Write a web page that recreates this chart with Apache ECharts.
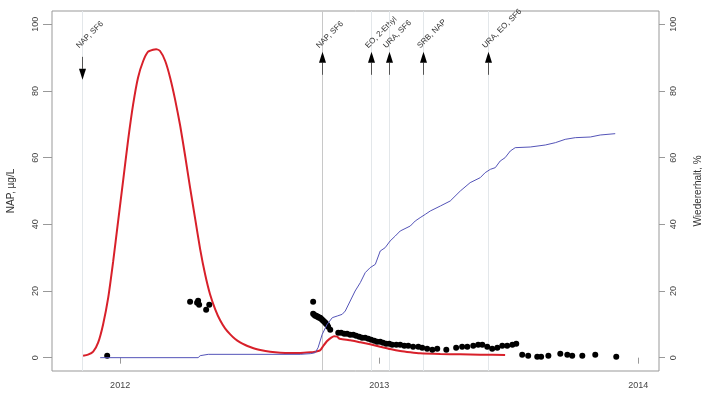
<!DOCTYPE html>
<html>
<head>
<meta charset="utf-8">
<script src="https://cdn.jsdelivr.net/npm/echarts@6/dist/echarts.min.js"></script>
<style>
  html, body { margin: 0; padding: 0; background: #fff; }
  #chart { width: 702px; height: 396px; }
</style>
</head>
<body>
<div id="chart"></div>
<script>
// Time is given in decimal years throughout.

// Model curve of NAP concentration (µg/L)
const modelTime = [2011.857, 2011.876, 2011.896, 2011.915, 2011.934, 2011.954, 2011.973, 2011.992,
  2012.012, 2012.031, 2012.050, 2012.069, 2012.089, 2012.108, 2012.127, 2012.139, 2012.154, 2012.174,
  2012.193, 2012.212, 2012.232, 2012.251, 2012.270, 2012.290, 2012.309, 2012.328, 2012.347, 2012.367,
  2012.386, 2012.405, 2012.425, 2012.444, 2012.463, 2012.483, 2012.502, 2012.521, 2012.541, 2012.579,
  2012.618, 2012.656, 2012.695, 2012.734, 2012.753, 2012.764, 2012.772, 2012.784, 2012.799, 2012.815,
  2012.826, 2012.838, 2012.846, 2012.853, 2012.888, 2012.927, 2012.965, 2013.004, 2013.042, 2013.081,
  2013.120, 2013.158, 2013.236, 2013.313, 2013.390, 2013.486];
const modelNap = [0.6, 0.9, 1.8, 4.5, 9.9, 18.0, 28.8, 40.8,
  53.4, 65.4, 75.9, 84.0, 89.0, 91.8, 92.4, 92.5, 92.0, 89.0,
  84.0, 77.5, 69.5, 60.5, 51.0, 41.5, 32.5, 25.0, 19.0, 14.5,
  11.2, 8.8, 7.0, 5.6, 4.6, 3.8, 3.2, 2.7, 2.3, 1.8,
  1.5, 1.4, 1.4, 1.6, 1.8, 2.0, 2.2, 3.5, 5.0, 6.0,
  6.4, 6.3, 5.7, 5.6, 5.2, 4.6, 4.0, 3.3, 2.6, 2.0,
  1.6, 1.3, 1.1, 1.0, 0.9, 0.8];

// Cumulative recovery (%)
const recoveryTime = [2011.923, 2012.301, 2012.309, 2012.340, 2012.695, 2012.734, 2012.753, 2012.764,
  2012.780, 2012.799, 2012.819, 2012.838, 2012.857, 2012.869, 2012.888, 2012.907, 2012.927, 2012.946,
  2012.965, 2012.985, 2013.004, 2013.023, 2013.042, 2013.062, 2013.081, 2013.120, 2013.139, 2013.158,
  2013.178, 2013.197, 2013.236, 2013.274, 2013.313, 2013.351, 2013.390, 2013.409, 2013.429, 2013.448,
  2013.467, 2013.486, 2013.506, 2013.525, 2013.583, 2013.641, 2013.680, 2013.718, 2013.757, 2013.815,
  2013.853, 2013.911];
const recoveryPct = [0, 0, 0.6, 1.0, 1.0, 1.2, 1.5, 3.0,
  7.0, 10.0, 12.0, 12.5, 13.0, 14.0, 17.0, 20.0, 22.5, 25.5,
  27.0, 28.0, 32.0, 33.0, 35.0, 36.5, 38.0, 39.5, 41.0, 42.0,
  43.0, 44.0, 45.5, 47.0, 50.0, 52.5, 54.0, 55.5, 56.5, 57.0,
  59.0, 60.0, 62.0, 63.0, 63.2, 63.8, 64.5, 65.5, 66.0, 66.2,
  66.8, 67.2];

// Measured NAP samples (µg/L)
const sampleTime = [2011.950,
  2012.270, 2012.297, 2012.301, 2012.305, 2012.332, 2012.344,
  2012.745, 2012.745, 2012.749, 2012.753, 2012.757, 2012.761, 2012.764, 2012.768, 2012.772, 2012.776,
  2012.780, 2012.784, 2012.788, 2012.792, 2012.795, 2012.799, 2012.803, 2012.811,
  2012.842, 2012.853, 2012.865, 2012.876, 2012.888, 2012.900, 2012.911, 2012.923, 2012.934, 2012.946,
  2012.958, 2012.969, 2012.981, 2012.992, 2013.004, 2013.015, 2013.027, 2013.039, 2013.050, 2013.066,
  2013.081, 2013.097, 2013.112, 2013.131, 2013.151, 2013.166, 2013.185, 2013.205, 2013.224, 2013.259,
  2013.297, 2013.320, 2013.340, 2013.363, 2013.382, 2013.398, 2013.417, 2013.436, 2013.456, 2013.475,
  2013.494, 2013.514, 2013.529, 2013.552, 2013.575, 2013.610, 2013.625, 2013.653, 2013.699, 2013.726,
  2013.745, 2013.784, 2013.834, 2013.915];
const sampleNap = [0.6,
  16.8, 16.5, 17.1, 15.9, 14.4, 15.9,
  16.8, 13.2, 12.9, 12.6, 12.6, 12.3, 12.3, 12.0, 12.0, 11.7,
  11.4, 11.1, 10.8, 10.5, 10.2, 9.9, 9.3, 8.4,
  7.5, 7.5, 7.2, 7.2, 6.9, 6.9, 6.6, 6.3, 6.0, 6.0,
  5.7, 5.4, 5.1, 4.8, 4.8, 4.5, 4.2, 4.2, 3.9, 3.9,
  3.9, 3.6, 3.6, 3.3, 3.3, 3.0, 2.7, 2.4, 2.7, 2.4,
  3.0, 3.3, 3.3, 3.6, 3.9, 3.9, 3.3, 2.7, 3.0, 3.6,
  3.6, 3.9, 4.2, 0.9, 0.6, 0.3, 0.3, 0.6, 1.2, 0.9,
  0.6, 0.6, 0.9, 0.3];

// Tracer injections
const eventTime = [2011.852, 2012.780, 2012.969, 2013.039, 2013.168, 2013.421];
const eventLabel = ['NAP, SF6', 'NAP, SF6', 'EO, 2-Ethyl', 'URA, SF6', 'SRB, NAP', 'URA, EO, SF6'];
const eventPointsUp = [false, true, true, true, true, true];

const yearTicks = [2012, 2013, 2014];
const valueTicks = [0, 20, 40, 60, 80, 100];

const FONT = 'Liberation Sans, Arial, Helvetica, sans-serif';
const zip = (a, b) => a.map((v, i) => [v, b[i]]);

const chart = echarts.init(document.getElementById('chart'), null, { renderer: 'canvas' });

function yAxisConf(position, name) {
  return {
    type: 'value',
    position: position,
    min: -4,
    max: 104,
    name: name,
    nameLocation: 'middle',
    nameRotate: 90,
    nameGap: position === 'left' ? 36 : 34,
    nameTextStyle: { fontFamily: FONT, fontSize: 10, color: '#333' },
    axisLine: { show: false },
    axisTick: { show: true, length: position === 'left' ? 9 : 6, customValues: valueTicks,
      lineStyle: { color: '#999', width: 1 } },
    axisLabel: { show: true, rotate: 90, margin: position === 'left' ? 12 : 10, customValues: valueTicks,
      fontFamily: FONT, fontSize: 9, color: '#444' },
    splitLine: { show: false }
  };
}

function renderEvent(params, api) {
  const i = params.dataIndex;
  const t = api.value(0);
  const top = api.coord([t, 104]);
  const bottom = api.coord([t, -4]);
  const x = Math.round(top[0]) + 0.5;
  const up = eventPointsUp[i];
  const children = [{
    type: 'line',
    shape: { x1: x, y1: top[1], x2: x, y2: bottom[1] },
    style: { stroke: i === 1 ? '#c8c8c8' : '#e3e7ea', lineWidth: 1 }
  }];
  const headLen = 11, headHalf = 3.5;
  if (up) {
    const tip = api.coord([t, 91.75])[1];
    const tail = api.coord([t, 84.86])[1];
    children.push({ type: 'line', shape: { x1: x, y1: tail, x2: x, y2: tip + headLen },
      style: { stroke: '#555', lineWidth: 1 } });
    children.push({ type: 'polygon',
      shape: { points: [[x, tip], [x - headHalf, tip + headLen], [x + headHalf, tip + headLen]] },
      style: { fill: '#000' } });
  } else {
    const tail = api.coord([t, 90.25])[1];
    const tip = api.coord([t, 83.36])[1];
    children.push({ type: 'line', shape: { x1: x, y1: tail, x2: x, y2: tip - headLen },
      style: { stroke: '#555', lineWidth: 1 } });
    children.push({ type: 'polygon',
      shape: { points: [[x, tip], [x - headHalf, tip - headLen], [x + headHalf, tip - headLen]] },
      style: { fill: '#000' } });
  }
  const ty = api.coord([t, 92.35])[1];
  children.push({
    type: 'text',
    x: x - 2,
    y: ty,
    rotation: Math.PI / 4,
    style: { text: eventLabel[i], fill: '#333', font: '8px ' + FONT, align: 'left', verticalAlign: 'bottom' }
  });
  return { type: 'group', children: children };
}

chart.setOption({
  animation: false,
  backgroundColor: '#fff',
  grid: { left: 52, right: 43, top: 11, bottom: 25, show: true, borderColor: '#999', borderWidth: 1,
    backgroundColor: 'transparent', outerBoundsMode: 'none', containLabel: false },
  xAxis: {
    type: 'value',
    min: 2011.737,
    max: 2014.080,
    axisLine: { show: false },
    axisTick: { show: true, length: 6, customValues: yearTicks, lineStyle: { color: '#999' } },
    axisLabel: { show: true, margin: 10, customValues: yearTicks, fontFamily: FONT, fontSize: 9,
      color: '#444', formatter: v => String(Math.round(v)) },
    splitLine: { show: false }
  },
  yAxis: [yAxisConf('left', 'NAP, µg/L'), yAxisConf('right', 'Wiedererhalt, %')],
  series: [
    {
      type: 'custom',
      name: 'Injektionen',
      renderItem: renderEvent,
      data: eventTime.map(t => [t, 0]),
      clip: false,
      silent: true,
      z: 1
    },
    {
      type: 'line',
      name: 'Modell',
      data: zip(modelTime, modelNap),
      yAxisIndex: 0,
      showSymbol: false,
      symbol: 'none',
      smooth: 0.2,
      lineStyle: { color: '#d8202a', width: 2 },
      z: 3
    },
    {
      type: 'line',
      name: 'Wiedererhalt',
      data: zip(recoveryTime, recoveryPct),
      yAxisIndex: 1,
      symbol: 'none',
      lineStyle: { color: '#5454b8', width: 1 },
      z: 5
    },
    {
      type: 'scatter',
      name: 'NAP',
      data: zip(sampleTime, sampleNap),
      yAxisIndex: 0,
      symbol: 'circle',
      symbolSize: 6,
      itemStyle: { color: '#000', opacity: 1 },
      z: 4
    }
  ]
});
</script>
</body>
</html>
